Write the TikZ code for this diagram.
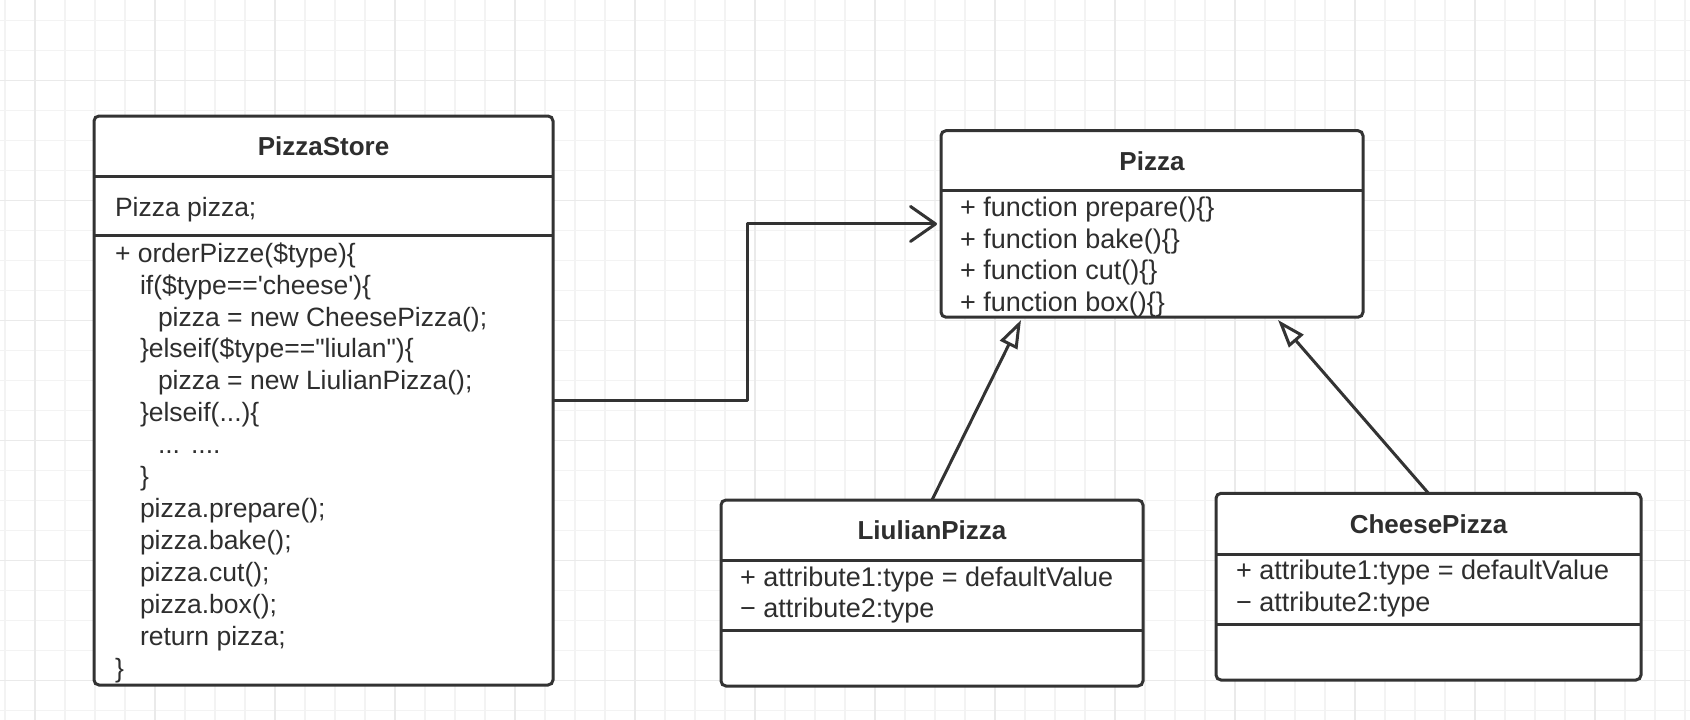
\documentclass[tikz,border=0pt]{standalone}
\usepackage{fontspec}
\setmainfont{Liberation Sans}[Ligatures=TeXOff]
\usetikzlibrary{arrows.meta}
\definecolor{linecol}{HTML}{333333}
\definecolor{txtcol}{HTML}{2E2E2E}
\definecolor{gridminor}{HTML}{F3F3F3}
\definecolor{gridmajor}{HTML}{EAEAEA}
\tikzset{
  gridminorline/.style={draw=gridminor, line width=1.4pt},
  gridmajorline/.style={draw=gridmajor, line width=1.4pt},
  umlbox/.style={rectangle, draw=linecol, line width=3pt, fill=white, rounded corners=5pt, inner sep=0pt, outer sep=0pt, anchor=north west},
  sepline/.style={draw=linecol, line width=3pt},
  umlline/.style={draw=linecol, line width=3pt, line join=round},
  classtitle/.style={anchor=base, inner sep=0pt, outer sep=0pt, text=txtcol, font=\bfseries\fontsize{26}{32}\selectfont},
  codetxt/.style={anchor=base west, inner sep=0pt, outer sep=0pt, text=txtcol, font=\fontsize{26.5}{32}\selectfont},
  membertxt/.style={anchor=base west, inner sep=0pt, outer sep=0pt, text=txtcol, font=\fontsize{27}{32}\selectfont},
}
\begin{document}
\begin{tikzpicture}[x=1pt,y=-1pt]
\useasboundingbox (0,0) rectangle (1690,720);
\fill[white] (0,0) rectangle (1690,720);
% grid
\foreach \gx in {5,35,...,1685} \draw[gridminorline] (\gx,0) -- (\gx,720);
\foreach \gy in {20.7,50.7,...,715} \draw[gridminorline] (0,\gy) -- (1690,\gy);
\foreach \gx in {35,155,...,1600} \draw[gridmajorline] (\gx,0) -- (\gx,720);
\foreach \gy in {80.7,200.7,...,700} \draw[gridmajorline] (0,\gy) -- (1690,\gy);

% boxes
\node[umlbox, minimum width=459pt, minimum height=569pt] (store) at (94,116) {};
\node[umlbox, minimum width=422pt, minimum height=186.5pt] (pizza) at (941,130.7) {};
\node[umlbox, minimum width=422pt, minimum height=186pt] (liulian) at (721,500) {};
\node[umlbox, minimum width=425pt, minimum height=186.7pt] (cheese) at (1216,493.3) {};

% separators
\draw[sepline] (store.west |- 0,176) -- (store.east |- 0,176);
\draw[sepline] (store.west |- 0,235) -- (store.east |- 0,235);
\draw[sepline] (pizza.west |- 0,190) -- (pizza.east |- 0,190);
\draw[sepline] (liulian.west |- 0,560) -- (liulian.east |- 0,560);
\draw[sepline] (liulian.west |- 0,630) -- (liulian.east |- 0,630);
\draw[sepline] (cheese.west |- 0,554.3) -- (cheese.east |- 0,554.3);
\draw[sepline] (cheese.west |- 0,624) -- (cheese.east |- 0,624);

% PizzaStore texts
\node[classtitle] (storeT) at (323.5,155.5) {PizzaStore};
\node[codetxt] (storeA) at (115,216) {Pizza pizza;};
\node[codetxt] (s01) at (115,262) {+ orderPizze(\$type)\{};
\node[codetxt] (s02) at (140,294) {if(\$type=='cheese')\{};
\node[codetxt] (s03) at (158,326) {pizza = new CheesePizza();};
\node[codetxt] (s04) at (140,357.5) {\}elseif(\$type=="liulan")\{};
\node[codetxt] (s05) at (158,389.5) {pizza = new LiulianPizza();};
\node[codetxt] (s06) at (140,421.5) {\}elseif(...)\{};
\node[codetxt] (s07) at (158,453) {...\hspace{11pt}....};
\node[codetxt] (s08) at (140,485) {\}};
\node[codetxt] (s09) at (140,517) {pizza.prepare();};
\node[codetxt] (s10) at (140,549) {pizza.bake();};
\node[codetxt] (s11) at (140,581) {pizza.cut();};
\node[codetxt] (s12) at (140,613) {pizza.box();};
\node[codetxt] (s13) at (140,645) {return pizza;};
\node[codetxt] (s14) at (115,677) {\}};

% Pizza texts
\node[classtitle] (pizzaT) at (1152,170) {Pizza};
\node[membertxt] (p1) at (960,216.5) {+ function prepare()\{\}};
\node[membertxt] (p2) at (960,248) {+ function bake()\{\}};
\node[membertxt] (p3) at (960,279.5) {+ function cut()\{\}};
\node[membertxt] (p4) at (960,311) {+ function box()\{\}};

% LiulianPizza texts
\node[classtitle] (liulianT) at (932,539.5) {LiulianPizza};
\node[membertxt] (l1) at (740,586) {+ attribute1:type = defaultValue};
\node[membertxt] (l2) at (740,617) {− attribute2:type};

% CheesePizza texts
\node[classtitle] (cheeseT) at (1428.5,533) {CheesePizza};
\node[membertxt] (c1) at (1236,579.5) {+ attribute1:type = defaultValue};
\node[membertxt] (c2) at (1236,611) {− attribute2:type};

% connectors
\coordinate (pizzaIn) at ([xshift=-4pt]pizza.west);
\draw[umlline, -{Straight Barb[length=25pt,width=35pt,round]}] (store.east) -- ++(194,0) |- (pizzaIn);
\coordinate (pizzaL) at (1021,320);
\coordinate (pizzaR) at (1278,320);
\draw[umlline, -{Triangle[length=28pt,width=19pt,fill=white]}] (liulian.north) -- (pizzaL);
\draw[umlline, -{Triangle[length=28pt,width=19pt,fill=white]}] (cheese.north) -- (pizzaR);
\end{tikzpicture}
\end{document}
